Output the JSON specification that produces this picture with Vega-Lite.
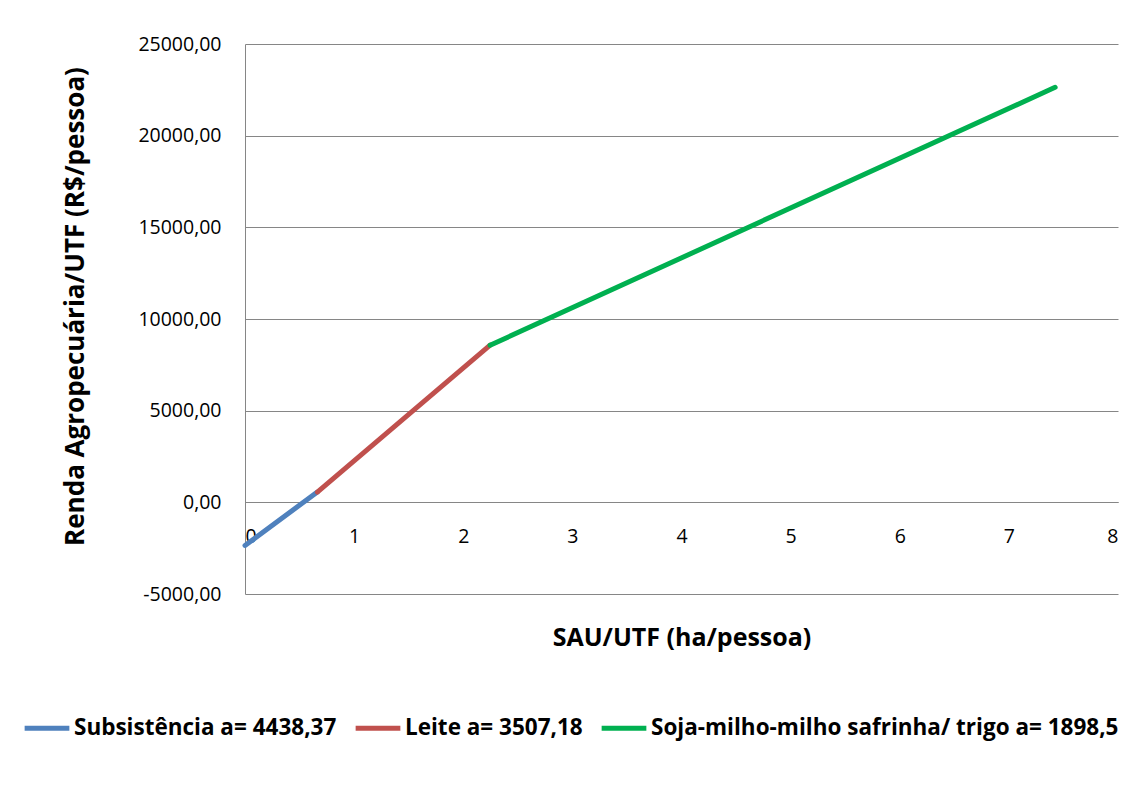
{
  "$schema": "https://vega.github.io/schema/vega-lite/v6.json",
  "width": 873,
  "height": 550,
  "autosize": {"type": "none"},
  "padding": {"left": 245, "top": 44, "right": 22, "bottom": 198},
  "background": "white",
  "config": {
    "view": {"stroke": null},
    "font": "Open Sans"
  },
  "data": {
    "values": [
      {"serie": "Subsistência a= 4438,37", "x": 0, "y": -2350},
      {"serie": "Subsistência a= 4438,37", "x": 0.663, "y": 562},
      {"serie": "Leite a= 3507,18", "x": 0.663, "y": 562},
      {"serie": "Leite a= 3507,18", "x": 2.246, "y": 8570},
      {"serie": "Soja-milho-milho safrinha/ trigo a= 1898,5", "x": 2.246, "y": 8570},
      {"serie": "Soja-milho-milho safrinha/ trigo a= 1898,5", "x": 7.424, "y": 22637}
    ]
  },
  "mark": {"type": "line", "strokeWidth": 5, "strokeCap": "round"},
  "encoding": {
    "x": {
      "field": "x",
      "type": "quantitative",
      "scale": {"domain": [0, 8], "nice": false, "zero": false},
      "axis": {
        "values": [0, 1, 2, 3, 4, 5, 6, 7, 8],
        "offset": -92,
        "grid": false,
        "domain": true,
        "domainColor": "#868686",
        "ticks": false,
        "labelPadding": 25,
        "labelFontSize": 19.5,
        "labelColor": "black",
        "title": "SAU/UTF (ha/pessoa)",
        "titleFontSize": 25,
        "titleFontWeight": "bold",
        "titleColor": "black",
        "titleY": 135,
        "titleBaseline": "middle"
      }
    },
    "y": {
      "field": "y",
      "type": "quantitative",
      "scale": {"domain": [-5000, 25000], "nice": false, "zero": false},
      "axis": {
        "values": [-5000, 0, 5000, 10000, 15000, 20000, 25000],
        "labelExpr": "replace(replace(format(datum.value, '.2f'), '.', ','), '\u2212', '-')",
        "grid": true,
        "gridColor": "#868686",
        "gridWidth": 1,
        "domain": true,
        "domainColor": "#868686",
        "ticks": false,
        "labelPadding": 24,
        "labelFontSize": 19.5,
        "labelColor": "black",
        "title": "Renda Agropecuária/UTF (R$/pessoa)",
        "titleFontSize": 26,
        "titleFontWeight": "bold",
        "titleColor": "black",
        "titleX": -170,
        "titleY": 262,
        "titleAlign": "center",
        "titleBaseline": "middle"
      }
    },
    "color": {
      "field": "serie",
      "type": "nominal",
      "scale": {
        "domain": ["Subsistência a= 4438,37", "Leite a= 3507,18", "Soja-milho-milho safrinha/ trigo a= 1898,5"],
        "range": ["#4F81BD", "#C0504D", "#00B050"]
      },
      "legend": {
        "orient": "none",
        "direction": "horizontal",
        "legendX": -223,
        "legendY": 659,
        "title": null,
        "symbolType": "stroke",
        "symbolSize": 2000,
        "symbolStrokeWidth": 5,
        "labelFontSize": 22.5,
        "labelFontWeight": "bold",
        "labelColor": "black",
        "labelOffset": 2,
        "columnPadding": 8,
        "labelLimit": 700
      }
    }
  }
}
